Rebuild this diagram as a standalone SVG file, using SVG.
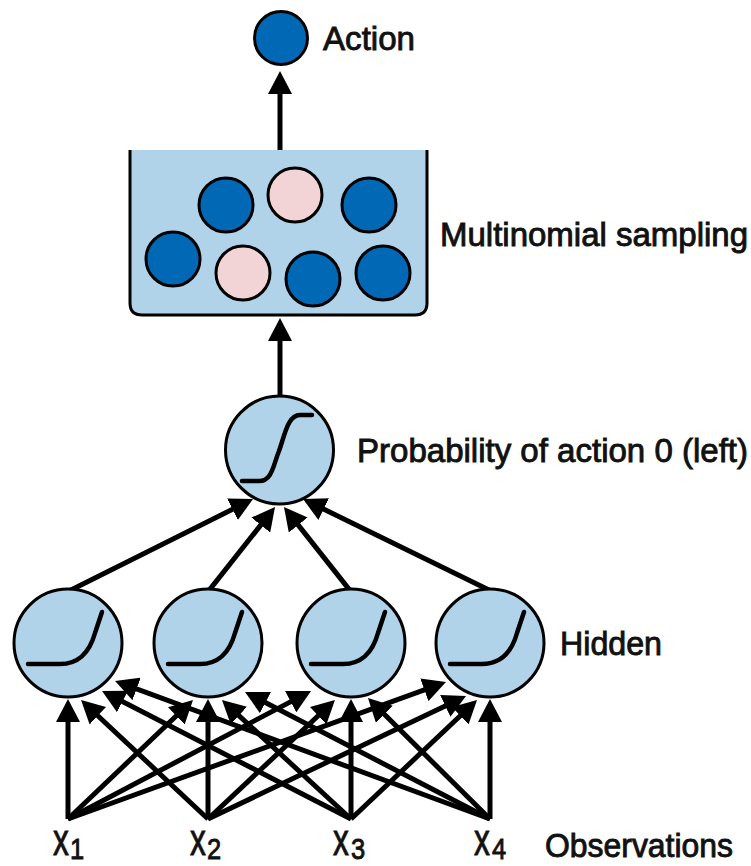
<svg xmlns="http://www.w3.org/2000/svg" width="751" height="866" viewBox="0 0 751 866">
<style>
.bg{fill:#ffffff}
.node{fill:#b0d3ea;stroke:#000;stroke-width:3}
.dark{fill:#0068b4;stroke:#000;stroke-width:3}
.pink{fill:#f2d4d6;stroke:#000;stroke-width:3}
.curve{fill:none;stroke:#000;stroke-width:4.5;stroke-linecap:round;stroke-linejoin:round}
.conn line{stroke:#000;stroke-width:5;marker-end:url(#ah)}
.label{font-family:"Liberation Sans",Arial,sans-serif;font-size:33px;fill:#111;stroke:#111;stroke-width:0.9}
.sym{font-family:"Liberation Sans",Arial,sans-serif;fill:#111;stroke:#111;stroke-width:0.9}
</style>
<defs>
<marker id="ah" markerUnits="userSpaceOnUse" viewBox="0 0 23 24" markerWidth="23" markerHeight="24" refX="11" refY="12" orient="auto">
<path d="M0,0 L23,12 L0,24 z" fill="#000"/>
</marker>
</defs>
<rect class="bg" x="0" y="0" width="751" height="866"/>

<g id="connectors" class="conn">
<line x1="280" y1="150" x2="280" y2="83"/>
<line x1="280" y1="400" x2="280" y2="330"/>
<line x1="70.5" y1="590.2" x2="242.3" y2="504.4"/>
<line x1="207.9" y1="591.9" x2="267.6" y2="516.4"/>
<line x1="351.1" y1="591.9" x2="291.4" y2="516.4"/>
<line x1="489.5" y1="590.2" x2="313.8" y2="504.3"/>
<line x1="68" y1="819" x2="68" y2="711"/>
<line x1="208" y1="819" x2="208" y2="711"/>
<line x1="351" y1="819" x2="351" y2="711"/>
<line x1="490" y1="819" x2="490" y2="711"/>
<line x1="208" y1="819" x2="89.8" y2="708.2"/>
<line x1="351" y1="819" x2="112.7" y2="696.5"/>
<line x1="490" y1="819" x2="126.3" y2="685.1"/>
<line x1="68" y1="819" x2="184.3" y2="708.3"/>
<line x1="351" y1="819" x2="230.8" y2="708.1"/>
<line x1="490" y1="819" x2="255.7" y2="697.5"/>
<line x1="68" y1="819" x2="300.4" y2="696.6"/>
<line x1="208" y1="819" x2="326.2" y2="708.2"/>
<line x1="490" y1="819" x2="376.5" y2="706.5"/>
<line x1="68" y1="819" x2="434.7" y2="686.1"/>
<line x1="208" y1="819" x2="455.2" y2="701.2"/>
<line x1="351" y1="819" x2="468.3" y2="708.2"/>
</g>

<g id="action">
<circle class="dark" cx="281" cy="38" r="26.5"/>
<text class="label" x="323" y="50" textLength="92" lengthAdjust="spacingAndGlyphs">Action</text>
</g>

<g id="sampling">
<path d="M130,150 V303 Q130,315 142,315 H415 Q427,315 427,303 V150" fill="#b0d3ea" stroke="#000" stroke-width="3"/>
<circle class="dark" cx="226" cy="205" r="27"/>
<circle class="pink" cx="295" cy="195" r="27"/>
<circle class="dark" cx="369" cy="205" r="27"/>
<circle class="dark" cx="173" cy="259" r="27"/>
<circle class="pink" cx="243" cy="273" r="27"/>
<circle class="dark" cx="313" cy="279" r="27"/>
<circle class="dark" cx="383" cy="273" r="27"/>
<text class="label" x="440" y="246" textLength="308" lengthAdjust="spacingAndGlyphs">Multinomial sampling</text>
</g>

<g id="output">
<circle class="node" cx="279.5" cy="450" r="54"/>
<path class="curve" d="M242,481 H259 C272,481 273,466 279,451 C285,434 288,415 300,415 H312"/>
<text class="label" x="357" y="462" textLength="391" lengthAdjust="spacingAndGlyphs">Probability of action 0 (left)</text>
</g>

<g id="hidden1" transform="translate(68,643)">
<circle class="node" cx="0" cy="0" r="54"/>
<path class="curve" d="M-40,21 H-8 C12,21 22,8 27,-10 L34,-31"/>
</g>
<g id="hidden2" transform="translate(208,643)">
<circle class="node" cx="0" cy="0" r="54"/>
<path class="curve" d="M-40,21 H-8 C12,21 22,8 27,-10 L34,-31"/>
</g>
<g id="hidden3" transform="translate(351,643)">
<circle class="node" cx="0" cy="0" r="54"/>
<path class="curve" d="M-40,21 H-8 C12,21 22,8 27,-10 L34,-31"/>
</g>
<g id="hidden4" transform="translate(490,643)">
<circle class="node" cx="0" cy="0" r="54"/>
<path class="curve" d="M-40,21 H-8 C12,21 22,8 27,-10 L34,-31"/>
</g>
<g id="hidden-label">
<text class="label" x="560" y="655" textLength="102" lengthAdjust="spacingAndGlyphs">Hidden</text>
</g>

<g id="input1">
<text class="sym" font-size="44" transform="translate(53,855) scale(0.72,1)">x</text>
<text class="sym" font-size="30" transform="translate(70,859) scale(0.85,1)">1</text>
</g>
<g id="input2">
<text class="sym" font-size="44" transform="translate(190,855) scale(0.72,1)">x</text>
<text class="sym" font-size="30" transform="translate(207,859) scale(0.85,1)">2</text>
</g>
<g id="input3">
<text class="sym" font-size="44" transform="translate(333,855) scale(0.72,1)">x</text>
<text class="sym" font-size="30" transform="translate(351,859) scale(0.85,1)">3</text>
</g>
<g id="input4">
<text class="sym" font-size="44" transform="translate(474,855) scale(0.72,1)">x</text>
<text class="sym" font-size="30" transform="translate(492,859) scale(0.85,1)">4</text>
</g>
<g id="observations-label">
<text class="label" x="545" y="857" textLength="188" lengthAdjust="spacingAndGlyphs">Observations</text>
</g>
</svg>
